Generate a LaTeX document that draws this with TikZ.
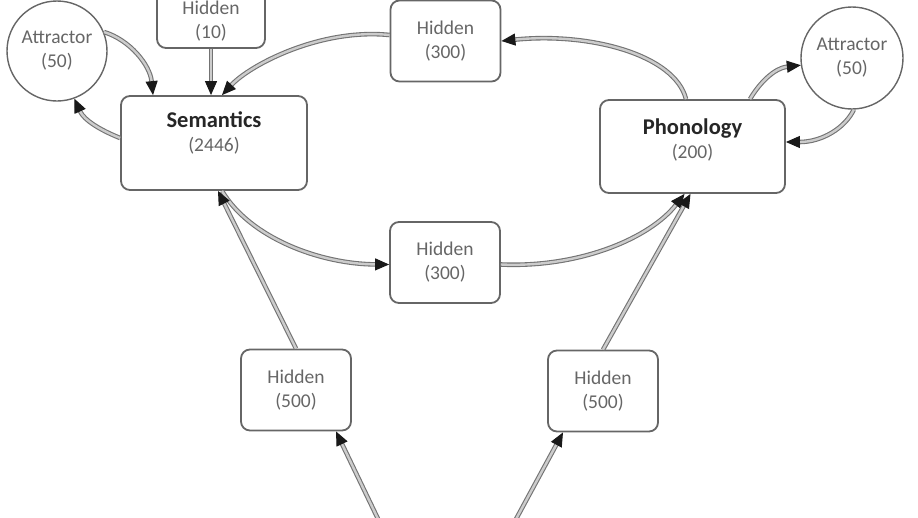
\documentclass[tikz,border=0pt]{standalone}
\usepackage{fontspec}
\setmainfont{Carlito}
\usetikzlibrary{arrows.meta}
\begin{document}
\begin{tikzpicture}[x=1pt,y=-1pt,
  box/.style={draw=black!60, line width=1.8pt, rounded corners=9pt, fill=white},
  unit/.style={box, minimum width=110pt, minimum height=81pt, align=center, text=black!60, font=\fontsize{19.5}{24}\selectfont},
  circ/.style={draw=black!60, line width=1.4pt, circle, inner sep=0pt, fill=white, align=center, text=black!60, font=\fontsize{19.5}{24}\selectfont},
  lbl/.style={align=center, text=black!60, font=\fontsize{19.5}{24}\selectfont},
  conn/.style={draw=black!55, line width=1.1pt, double=black!20, double distance=2.4pt, -{Triangle[length=14pt,width=12pt,color=black!90]}}
]
\useasboundingbox (0,0) rectangle (918,517);
\clip (0,0) rectangle (918,517);

% nodes
\node[box, minimum width=108pt, minimum height=80pt] (h10) at (211,8) {};
\node[lbl] (h10t) at (211,21) {Hidden\\(10)};
\node[unit] (htop) at (445.5,41) {Hidden\\(300)};
\node[unit] (hmid) at (445,262.5) {Hidden\\(300)};
\node[unit] (hL) at (296,390) {Hidden\\(500)};
\node[unit] (hR) at (603,391) {Hidden\\(500)};
\node[circ, minimum size=100pt] (attL) at (57,51) {Attractor\\(50)};
\node[circ, minimum size=102pt] (attR) at (852,58) {Attractor\\(50)};
\node[box, minimum width=186pt, minimum height=94pt] (sem) at (214,143) {};
\node[lbl] (semt) at (214,133) {{\fontsize{22.5}{24}\selectfont\bfseries\color{black!85}Semantics}\\(2446)};
\node[box, minimum width=185pt, minimum height=93pt] (pho) at (692.5,146.5) {};
\node[lbl] (phot) at (692.5,140) {{\fontsize{22.5}{24}\selectfont\bfseries\color{black!85}Phonology}\\(200)};

\coordinate (srcL) at (379,521);
\coordinate (srcR) at (515,521);

% connectors
\draw[conn] (attL.22) .. controls (130,40) and (150,65) .. ([xshift=-61pt]sem.north);
\draw[conn] ([yshift=5pt]sem.west) .. controls (100,130) and (84,120) .. (attL.-70);
\draw[conn] (h10.south) -- (h10.south |- sem.north);
\draw[conn] ([yshift=6pt]htop.west) .. controls (320,28) and (250,65) .. ([xshift=8pt]sem.north);
\draw[conn] ([xshift=-6.5pt]pho.north) .. controls (675,55) and (590,32) .. (htop.east);
\draw[conn] ([xshift=57.5pt]pho.north) .. controls (760,82) and (775,68) .. (attR.188);
\draw[conn] (attR.-88) .. controls (845,128) and (822,142) .. ([yshift=4.5pt]pho.east);
\draw[conn] ([xshift=8pt]sem.south) .. controls (250,238) and (320,264) .. ([yshift=-2pt]hmid.west);
\draw[conn] ([yshift=-2pt]hmid.east) .. controls (580,268) and (650,238) .. ([xshift=-8pt]pho.south);
\draw[conn] (hL.north) -- ([xshift=4pt]sem.south);
\draw[conn] (hR.north) -- ([xshift=-2pt]pho.south);
\draw[conn] (srcL) -- ([xshift=40pt]hL.south);
\draw[conn] (srcR) -- ([xshift=-40pt]hR.south);
\end{tikzpicture}
\end{document}
